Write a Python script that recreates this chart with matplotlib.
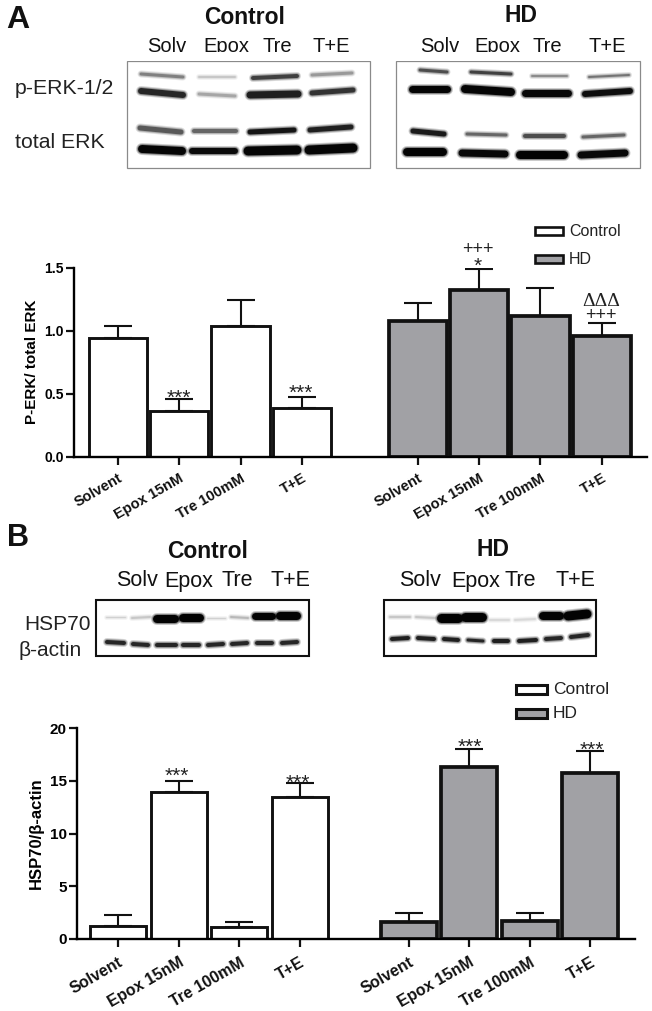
import matplotlib
matplotlib.use('Agg')
import matplotlib.pyplot as plt
from matplotlib.patches import Rectangle
import matplotlib.patheffects as pe

plt.rcParams['font.family'] = ['Liberation Sans', 'DejaVu Sans']

W, H = 652, 1011

categories = ['Solvent', 'Epox 15nM', 'Tre 100mM', 'T+E']

erk_control = [0.94, 0.365, 1.04, 0.385]
erk_control_top = [1.04, 0.455, 1.24, 0.476]
erk_hd = [1.08, 1.32, 1.12, 0.96]
erk_hd_top = [1.22, 1.487, 1.34, 1.065]
erk_ticks = [0.0, 0.5, 1.0, 1.5]

hsp_control = [1.27, 13.9, 1.14, 13.45]
hsp_control_top = [2.28, 14.94, 1.65, 14.75]
hsp_hd = [1.65, 16.27, 1.7, 15.7]
hsp_hd_top = [2.47, 17.97, 2.47, 17.8]
hsp_ticks = [0, 5, 10, 15, 20]

# blot bands: x0, x1, y0, y1, thickness, grey level (figure pixels)
blot_a_control = [
    (141, 183, 74, 77, 3, .5), (199, 235, 77, 77, 2, .78), (253, 297, 78, 76, 4, .25), (312, 352, 75, 73, 3, .6),
    (141, 183, 91, 95, 6, .15), (199, 235, 94, 96, 3, .65), (250, 298, 95, 94, 7, .12), (312, 353, 93, 90, 5, .2),
    (140, 181, 128, 132, 5, .35), (194, 236, 131, 131, 4, .4), (250, 294, 132, 130, 5, .08), (310, 351, 130, 127, 5, .12),
    (142, 182, 149, 151, 8, .02), (192, 235, 151, 151, 6, .04), (248, 297, 151, 150, 9, .02), (309, 353, 150, 148, 9, .02),
]
blot_a_hd = [
    (420, 447, 70, 72, 3, .3), (471, 511, 72, 74, 3, .25), (532, 567, 76, 76, 2, .55), (589, 629, 77, 75, 2, .45),
    (412, 447, 89, 89, 7, .02), (465, 511, 89, 92, 8, .02), (525, 568, 93, 93, 7, .03), (585, 630, 94, 91, 6, .05),
    (413, 444, 131, 134, 5, .1), (467, 506, 134, 135, 3, .4), (525, 564, 136, 136, 4, .3), (583, 624, 137, 135, 3, .4),
    (407, 443, 152, 152, 8, .01), (462, 505, 153, 154, 7, .03), (520, 564, 155, 155, 8, .01), (581, 625, 155, 153, 7, .03),
]
blot_b_control = [
    (106, 125, 617, 617, 1, .82), (132, 150, 618, 617, 2, .78), (157, 175, 619, 619, 8, .01), (183, 200, 618, 618, 8, .01),
    (207, 225, 618, 618, 1, .82), (231, 248, 617, 618, 2, .72), (255, 272, 616, 616, 7, .01), (280, 297, 616, 616, 8, .01),
    (107, 124, 642, 643, 4, .15), (133, 148, 644, 645, 4, .15), (157, 176, 645, 645, 4, .15), (183, 199, 645, 645, 4, .15),
    (208, 223, 645, 644, 4, .15), (232, 247, 644, 643, 4, .15), (257, 272, 643, 643, 4, .15), (282, 297, 643, 642, 4, .15),
]
blot_b_hd = [
    (390, 410, 617, 617, 2, .78), (416, 435, 617, 618, 2, .78), (441, 458, 618, 618, 9, .01), (465, 482, 617, 617, 9, .01),
    (490, 509, 620, 620, 2, .85), (515, 535, 620, 619, 2, .85), (543, 560, 616, 616, 8, .01), (568, 587, 616, 614, 9, .01),
    (392, 408, 639, 638, 4, .12), (418, 434, 638, 639, 4, .12), (444, 458, 639, 640, 4, .12), (468, 483, 640, 641, 3, .15),
    (494, 508, 641, 641, 4, .12), (519, 536, 641, 640, 4, .12), (546, 561, 639, 638, 4, .15), (571, 588, 637, 635, 4, .15),
]


def px_axes(fig, x0, x1, y_bottom, y_top):
    return fig.add_axes([x0 / W, 1 - y_bottom / H, (x1 - x0) / W, (y_bottom - y_top) / H])


def bar_panel(fig, box, xlim, positions, control, control_top, hd, hd_top, ticks, tick_fmt, ylabel,
              width, tick_size, cat_size, label_size, capsize, label_pad):
    ax = px_axes(fig, *box)
    groups = [(positions[:4], control, control_top, 'white', 2.1), (positions[4:], hd, hd_top, '#a1a1a5', 2.7)]
    for xs, vals, tops, color, lw in groups:
        ax.bar(xs, vals, width=width, color=color, edgecolor='#111111', linewidth=lw, zorder=2)
        up = [t - v for t, v in zip(tops, vals)]
        ax.errorbar(xs, vals, yerr=[[0] * 4, up], fmt='none', ecolor='#111111', elinewidth=1.5,
                    capsize=capsize, capthick=1.5, zorder=1)
    ax.set_xlim(*xlim)
    ax.set_ylim(ticks[0], ticks[-1])
    ax.set_xticks(positions)
    ax.set_xticklabels(categories * 2, rotation=30, ha='right', va='top', rotation_mode='anchor',
                       fontsize=cat_size, fontweight='bold', color='#111111')
    ax.set_yticks(ticks)
    ax.set_yticklabels([tick_fmt % t for t in ticks], fontsize=tick_size, fontweight='bold')
    ax.tick_params(width=1.6, length=5.5, color='#111111')
    ax.tick_params(axis='x', pad=label_pad)
    ax.tick_params(axis='y', pad=2)
    ax.set_ylabel(ylabel, fontsize=label_size, fontweight='bold', labelpad=4)
    for side in ['top', 'right']:
        ax.spines[side].set_visible(False)
    for side in ['left', 'bottom']:
        ax.spines[side].set_linewidth(1.7)
    ax.patch.set_alpha(0)
    return ax


def draw_blot(ov, box, edge, lw, bands):
    x0, x1, y0, y1 = box
    ov.add_patch(Rectangle((x0, y0), x1 - x0, y1 - y0, fc='white', ec=edge, lw=lw))
    for bx0, bx1, by0, by1, th, grey in bands:
        c = str(grey)
        ov.plot([bx0, bx1], [by0, by1], color=c, lw=th * 0.72, solid_capstyle='round', zorder=3,
                path_effects=[pe.Stroke(linewidth=(th + 4) * 0.72, foreground=c, alpha=.2),
                              pe.Stroke(linewidth=(th + 2) * 0.72, foreground=c, alpha=.35), pe.Normal()])


def legend_box(ov, x0, x1, y0, y1, color, lw, label, text_x, size):
    ov.add_patch(Rectangle((x0, y0), x1 - x0, y1 - y0, fc=color, ec='#111111', lw=lw))
    ov.text(text_x, (y0 + y1) / 2, label, fontsize=size, va='center', ha='left', color='#222222')


fig = plt.figure(figsize=(W / 100, H / 100), dpi=100)

bar_panel(fig, (74, 647, 456.7, 267.7), (0.28, 9.64), [1, 2, 3, 4, 5.9, 6.9, 7.9, 8.9],
          erk_control, erk_control_top, erk_hd, erk_hd_top, erk_ticks, '%.1f', 'P-ERK/ total ERK',
          0.95, 10, 10.5, 11, 10, 5)
bar_panel(fig, (77, 635, 939, 728), (0.32, 9.54), [1, 2, 3, 4, 5.8, 6.8, 7.8, 8.8],
          hsp_control, hsp_control_top, hsp_hd, hsp_hd_top, hsp_ticks, '%d', 'HSP70/\u03b2-actin',
          0.93, 11, 11.5, 12, 10, 6)

# everything that is not a chart sits on a pixel overlay
ov = fig.add_axes([0, 0, 1, 1], zorder=5)
ov.set_xlim(0, W)
ov.set_ylim(H, 0)
ov.axis('off')

draw_blot(ov, (127, 370, 61, 168), '#8a8a8a', 0.9, blot_a_control)
draw_blot(ov, (396, 640, 61, 168), '#8a8a8a', 0.9, blot_a_hd)
draw_blot(ov, (96, 309, 600, 656), '#111111', 1.5, blot_b_control)
draw_blot(ov, (384, 596, 600, 656), '#111111', 1.5, blot_b_hd)

ov.text(6, 20, 'A', fontsize=23, fontweight='bold', va='center', ha='left', color='#111111')
ov.text(7, 538, 'B', fontsize=22, fontweight='bold', va='center', ha='left', color='#111111')

head_a = [('Control', 245, 18), ('HD', 521, 15)]
head_b = [('Control', 208, 552), ('HD', 493, 550)]
for label, x, y in head_a + head_b:
    ov.text(x, y, label, fontsize=16.5, fontweight='bold', ha='center', va='center', color='#111111')

lanes = ['Solv', 'Epox', 'Tre', 'T+E']
for xs, y in [((167, 226, 277, 331), 47), ((440, 497, 547, 607), 47)]:
    for label, x in zip(lanes, xs):
        ov.text(x, y, label, fontsize=14.5, ha='center', va='center', color='#111111', zorder=2)
# the lane labels of panel A are cut off at the bottom
ov.add_patch(Rectangle((127, 52), 513, 8.5, fc='white', ec='none', zorder=2.5))
for xs, y in [((137, 189, 237, 290), 581), ((420, 476, 520, 575), 581)]:
    for label, x in zip(lanes, xs):
        ov.text(x, y, label, fontsize=15.5, ha='center', va='center', color='#111111')

ov.text(15, 88, 'p-ERK-1/2', fontsize=15.3, va='center', color='#222222')
ov.text(15, 143, 'total ERK', fontsize=15.3, va='center', color='#222222')
ov.text(24, 624, 'HSP70', fontsize=15, va='center', color='#222222')
ov.text(18, 651, '\u03b2-actin', fontsize=15, va='center', color='#222222')

legend_box(ov, 535, 563, 227, 235, 'white', 1.9, 'Control', 569, 11.5)
legend_box(ov, 535, 563, 255, 263, '#a1a1a5', 1.9, 'HD', 569, 11.5)
legend_box(ov, 516, 547, 685, 694, 'white', 2.2, 'Control', 553, 12.5)
legend_box(ov, 516, 547, 709, 718, '#a1a1a5', 2.2, 'HD', 553, 12.5)

marks = [('***', 179, 398), ('***', 301, 393), ('+++', 478, 249), ('*', 478, 266),
         ('+++', 601, 316),
         ('***', 177, 776), ('***', 298, 783), ('***', 470, 747), ('***', 592, 750)]
for label, x, y in marks:
    ov.text(x, y, label, fontsize=15 if '*' in label else 13, ha='center', va='center', color='#222222')
ov.text(601, 301, '\u0394\u0394\u0394', fontsize=14, family='Liberation Serif', ha='center', va='center', color='#222222')

fig.savefig('out.png', dpi=100)
